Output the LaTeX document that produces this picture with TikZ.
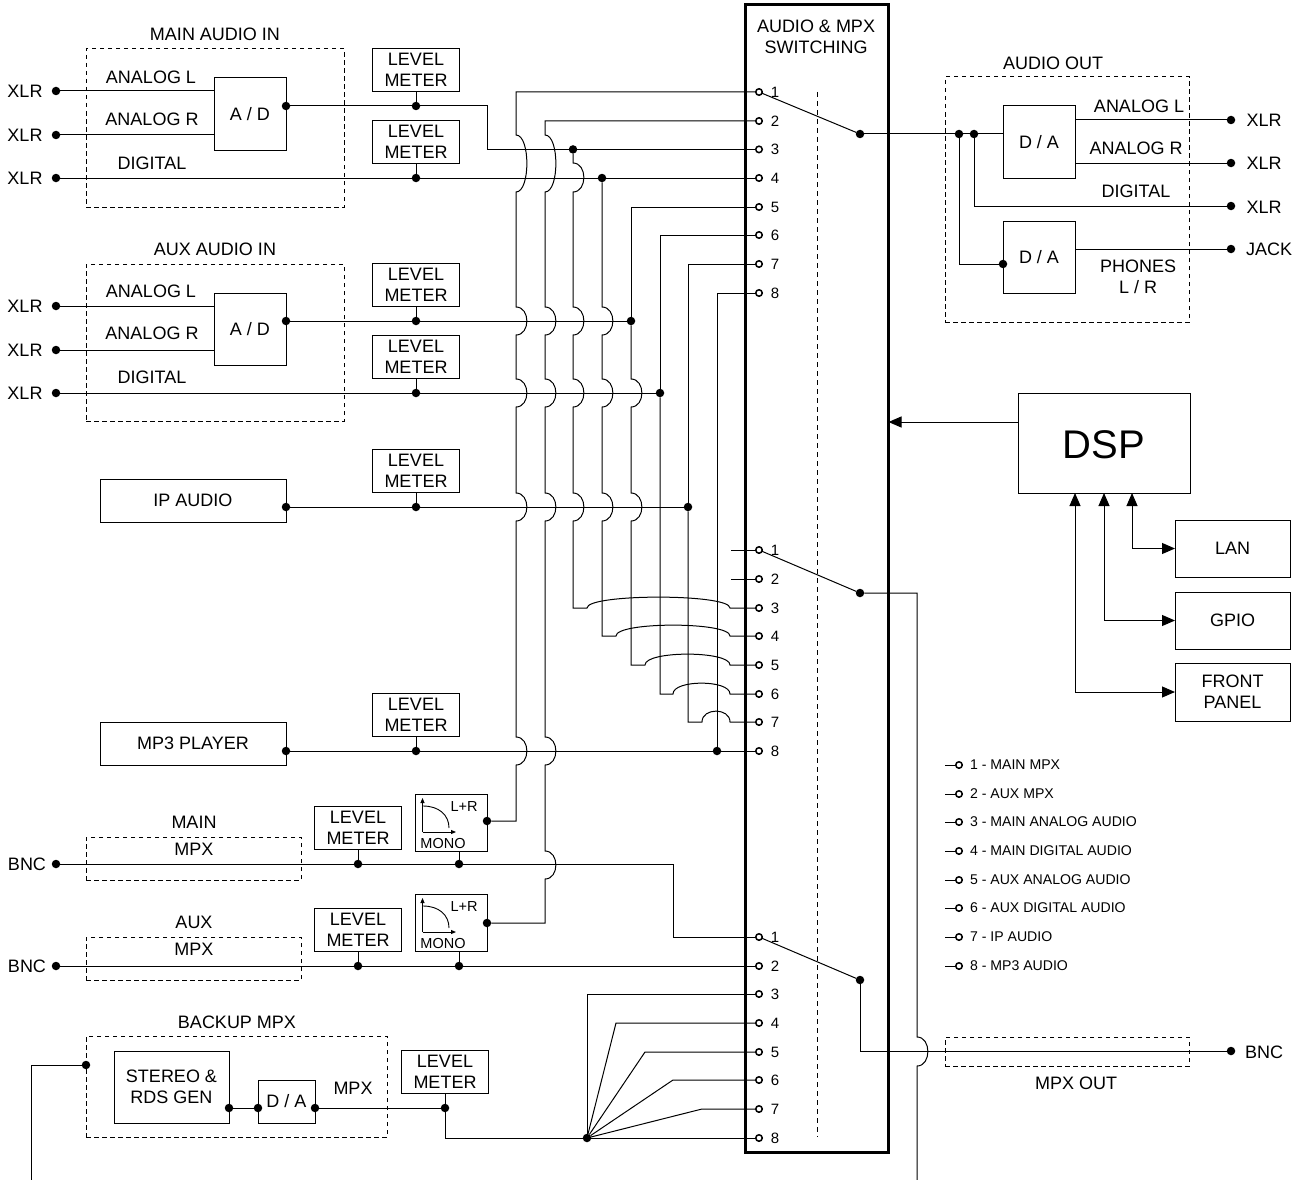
\documentclass[tikz,border=0pt]{standalone}
\usepackage{fontspec}
\setmainfont{Liberation Sans}
\usetikzlibrary{arrows.meta,positioning}

\begin{document}
\begin{tikzpicture}[x=1pt,y=-1pt,node distance=10pt,outer sep=0pt,inner sep=0pt,line width=1pt,>={Triangle[length=13pt,width=11pt]}]
        \tikzset{every node/.style={align=center,font=\fontsize{18}{21}\selectfont}}
        \tikzset{box/.style={shape=rectangle,draw}}
        \tikzset{dashbox/.style={shape=rectangle,draw,dash pattern=on 4.5pt off 3.5pt}}
        \tikzset{meter/.style={box,minimum height=43pt,minimum width=87pt}}
        \tikzset{convbox/.style={box,minimum height=72pt,minimum width=72pt}}
        \tikzset{mixbox/.style={box,minimum height=57pt,minimum width=72pt}}
        \tikzset{sidebox/.style={box,minimum height=57pt,minimum width=115pt}}
        \tikzset{srcbox/.style={box,minimum height=43pt,minimum width=186pt}}
        \tikzset{dot/.style={shape=circle,fill=black,minimum size=8.5pt}}
        \tikzset{pin/.style={shape=circle,draw,fill=white,line width=1.5pt,minimum size=6.5pt}}
        \tikzset{pinnum/.style={font=\fontsize{15}{17}\selectfont}}
        \tikzset{keytxt/.style={font=\fontsize{14.1}{16}\selectfont}}
        \tikzset{vhop/.style={out=0,in=0,distance=14.5pt}}
        \tikzset{hhop/.style={out=90,in=90,distance=14.5pt}}
        \tikzset{curveicon/.pic={
            \draw[line width=0.9pt,-{Triangle[length=5pt,width=4pt]}] (7.5,38) -- (7.5,4);
            \draw[line width=0.9pt,-{Triangle[length=5pt,width=4pt]}] (7.5,38) -- (41,38);
            \draw[line width=0.9pt] (8,12) .. controls (24,12) and (34,21) .. (34,34);
            \node[font=\fontsize{14.5}{16}\selectfont] (-lr) at (49,13) {L+R};
            \node[font=\fontsize{14.5}{16}\selectfont] (-mono) at (28,49) {MONO};
        }}

        \useasboundingbox (0,0) rectangle (1306,1180);

        % switching block
        \node [box,line width=3pt,minimum width=143pt,minimum height=1147pt] (switch) at (816.5,578.5) {};
        \node (switchtxt) at (816,36.5) {AUDIO \& MPX\\SWITCHING};
        \coordinate (sepa) at (817,92);
        \coordinate (sepb) at (817,1137);
        \draw [dash pattern=on 5pt off 4pt] (sepa) -- (sepb);

        \foreach \y [count=\i] in {92,121,149.4,178,207,235,264,293} {
            \node [pin] (a\i) at (759,\y) {};
            \node [pinnum] (a\i txt) at (775,\y) {\i};
        }
        \foreach \y [count=\i] in {550,579,608,636,665,694,722,751} {
            \node [pin] (b\i) at (759,\y) {};
            \node [pinnum] (b\i txt) at (775,\y) {\i};
        }
        \foreach \y [count=\i] in {937,966,994,1023,1052,1080,1109,1138} {
            \node [pin] (c\i) at (759,\y) {};
            \node [pinnum] (c\i txt) at (775,\y) {\i};
        }
        \node [dot] (swa) at (860,134) {};
        \node [dot] (swb) at (860,593) {};
        \node [dot] (swc) at (860,980) {};
        \draw (a1) -- (swa);
        \draw (b1) -- (swb);
        \draw (c1) -- (swc);
        \coordinate (bfree1) at (731,550);
        \coordinate (bfree2) at (731,579);
        \draw (bfree1) -- (b1);
        \draw (bfree2) -- (b2);

        % inputs on the left
        \foreach \i/\y in {1/91,2/135,3/178,4/306,5/350,6/393} {
            \node (xlrin\i) at (25,\y) {XLR};
            \node [dot] (tin\i) at (56,\y) {};
        }

        % main audio in
        \node [dashbox,minimum width=258pt,minimum height=158pt] (mainin) at (215,128) {};
        \node (maintxt) at (215,34) {MAIN AUDIO IN};
        \node [convbox] (admain) at (250,114) {A / D};
        \node (mainl) at (151,77) {ANALOG L};
        \node (mainr) at (152,119) {ANALOG R};
        \node (maind) at (152,163) {DIGITAL};
        \node [dot] (admainout) at (286,106) {};
        \node [dot] (lev1dot) at (416,106) {};
        \node [meter,above=of lev1dot] (lev1) {LEVEL\\METER};
        \node [dot] (lev2dot) at (416,178) {};
        \node [meter,above=of lev2dot] (lev2) {LEVEL\\METER};
        \draw (tin1) -- (tin1 -| admain.west);
        \draw (tin2) -- (tin2 -| admain.west);
        \draw (tin3) -- (a4);
        \draw (lev1) -- (lev1dot);
        \draw (lev2) -- (lev2dot);
        \draw (admainout) -- (487,106) -- (487,149.4) -- (a3);

        % aux audio in
        \node [dashbox,minimum width=258pt,minimum height=157pt] (auxin) at (215,342.5) {};
        \node (auxtxt) at (215,249) {AUX AUDIO IN};
        \node [convbox] (adaux) at (250,329) {A / D};
        \node (auxl) at (151,291) {ANALOG L};
        \node (auxr) at (152,333) {ANALOG R};
        \node (auxd) at (152,377) {DIGITAL};
        \node [dot] (adauxout) at (286,321) {};
        \node [dot] (lev3dot) at (416,321) {};
        \node [meter,above=of lev3dot] (lev3) {LEVEL\\METER};
        \node [dot] (lev4dot) at (416,393) {};
        \node [meter,above=of lev4dot] (lev4) {LEVEL\\METER};
        \draw (tin4) -- (tin4 -| adaux.west);
        \draw (tin5) -- (tin5 -| adaux.west);
        \draw (lev3) -- (lev3dot);
        \draw (lev4) -- (lev4dot);

        % ip audio and mp3 player
        \node [srcbox] (ipaudio) at (193,500.5) {IP AUDIO};
        \node [dot] (ipout) at (286,507) {};
        \node [dot] (lev5dot) at (416,507) {};
        \node [meter,above=of lev5dot] (lev5) {LEVEL\\METER};
        \draw (lev5) -- (lev5dot);
        \node [srcbox] (mp3) at (193,743.5) {MP3 PLAYER};
        \node [dot] (mp3out) at (286,751) {};
        \node [dot] (lev6dot) at (416,751) {};
        \node [meter,above=of lev6dot] (lev6) {LEVEL\\METER};
        \draw (lev6) -- (lev6dot);
        \draw (mp3out) -- (b8);

        % junctions towards the pins
        \node [dot] (jct3) at (573,149.4) {};
        \node [dot] (jct4) at (602,178) {};
        \node [dot] (jct5) at (631,321) {};
        \node [dot] (jct6) at (660,393) {};
        \node [dot] (jct7) at (688,507) {};
        \node [dot] (jct8) at (717,751) {};
        \draw (adauxout) -- (jct5);
        \draw (tin6) -- (jct6);
        \draw (ipout) -- (jct7);

        % main mpx
        \node [dashbox,minimum width=215pt,minimum height=43pt] (mainmpx) at (193.5,858.5) {};
        \node (mainmpxa) at (194,822) {MAIN};
        \node (mainmpxb) at (194,849) {MPX};
        \node (bncin1) at (27,864) {BNC};
        \node [dot] (tmpx1) at (56,864) {};
        \node [dot] (lev7dot) at (358,864) {};
        \node [meter,above=of lev7dot] (lev7) {LEVEL\\METER};
        \node [dot] (mix1dot) at (459,864) {};
        \node [mixbox] (mix1) at (451,822.5) {};
        \pic (mix1icon) at (415,794) {curveicon};
        \node [dot] (mix1out) at (487,821) {};
        \draw (lev7) -- (lev7dot);
        \draw (mix1dot |- mix1.south) -- (mix1dot);
        \draw (tmpx1) -- (673,864) -- (673,937) -- (c1);

        % aux mpx
        \node [dashbox,minimum width=215pt,minimum height=43pt] (auxmpx) at (193.5,958.5) {};
        \node (auxmpxa) at (194,922) {AUX};
        \node (auxmpxb) at (194,949) {MPX};
        \node (bncin2) at (27,966) {BNC};
        \node [dot] (tmpx2) at (56,966) {};
        \node [dot] (lev8dot) at (358,966) {};
        \node [meter,above=of lev8dot] (lev8) {LEVEL\\METER};
        \node [dot] (mix2dot) at (459,966) {};
        \node [mixbox] (mix2) at (451,922.5) {};
        \pic (mix2icon) at (415,894) {curveicon};
        \node [dot] (mix2out) at (487,923) {};
        \draw (lev8) -- (lev8dot);
        \draw (mix2dot |- mix2.south) -- (mix2dot);
        \draw (tmpx2) -- (c2);

        % vertical buses with their hops
        \draw (a1) -| (516,135) to[vhop] (516,192) -- (516,307) to[vhop] (516,335) -- (516,379) to[vhop] (516,407) -- (516,493) to[vhop] (516,521) -- (516,737) to[vhop] (516,765) |- (mix1out);
        \draw (a2) -| (545,135) to[vhop] (545,192) -- (545,307) to[vhop] (545,335) -- (545,379) to[vhop] (545,407) -- (545,493) to[vhop] (545,521) -- (545,737) to[vhop] (545,765) -- (545,851) to[vhop] (545,879) |- (mix2out);
        \draw (jct3) -- (573,163) to[vhop] (573,192) -- (573,307) to[vhop] (573,335) -- (573,379) to[vhop] (573,407) -- (573,493) to[vhop] (573,521) |- (587,608) to[hhop] (730,608) -- (b3);
        \draw (jct4) -- (602,307) to[vhop] (602,335) -- (602,379) to[vhop] (602,407) -- (602,493) to[vhop] (602,521) |- (616,636) to[hhop] (730,636) -- (b4);
        \draw (a5) -| (jct5);
        \draw (jct5) -- (631,379) to[vhop] (631,407) -- (631,493) to[vhop] (631,521) |- (645,665) to[hhop] (730,665) -- (b5);
        \draw (a6) -| (jct6);
        \draw (jct6) |- (673,694) to[hhop] (730,694) -- (b6);
        \draw (a7) -| (jct7);
        \draw (jct7) |- (702,722) to[hhop] (730,722) -- (b7);
        \draw (a8) -| (jct8);

        % backup mpx
        \node [dashbox,minimum width=301pt,minimum height=101pt] (backup) at (236.5,1086.5) {};
        \node (backuptxt) at (237,1022) {BACKUP MPX};
        \node [dot] (backupin) at (86,1065) {};
        \node [box,minimum width=115pt,minimum height=72pt] (stereo) at (171.5,1087) {STEREO \&\\RDS GEN};
        \node [box,minimum width=57pt,minimum height=43pt] (dabk) at (286.5,1101.5) {D / A};
        \node (mpxtxt) at (353,1088) {MPX};
        \node [dot] (stereoout) at (229,1108) {};
        \node [dot] (dabkin) at (258,1108) {};
        \node [dot] (dabkout) at (315,1108) {};
        \node [dot] (lev9dot) at (445,1108) {};
        \node [meter,above=of lev9dot] (lev9) {LEVEL\\METER};
        \node [dot] (fan) at (587,1138) {};
        \coordinate (feedl) at (31,1180);
        \draw (backupin) -| (feedl);
        \draw (stereoout) -- (dabkin);
        \draw (dabkout) -- (lev9dot);
        \draw (lev9) -- (lev9dot);
        \draw (lev9dot) |- (fan);
        \draw (fan) -- (c8);
        \foreach \i/\x in {3/587,4/616,5/645,6/673,7/702} {
            \draw (fan) -- (\x,0 |- c\i) -- (c\i);
        }

        % audio out
        \node [dashbox,minimum width=244pt,minimum height=245pt] (audioout) at (1067,199.5) {};
        \node (audioouttxt) at (1053,63) {AUDIO OUT};
        \node [convbox] (da1) at (1039,142) {D / A};
        \node [convbox] (da2) at (1039,257) {D / A};
        \node (outl) at (1139,106) {ANALOG L};
        \node (outr) at (1136,148) {ANALOG R};
        \node (outd) at (1136,191) {DIGITAL};
        \node (outp) at (1138,277) {PHONES\\L / R};
        \node [dot] (j959) at (959,134) {};
        \node [dot] (j974) at (974,134) {};
        \node [dot] (da2in) at (1003,264) {};
        \node [dot] (tout1) at (1231,120) {};
        \node [dot] (tout2) at (1231,163) {};
        \node [dot] (tout3) at (1231,206) {};
        \node [dot] (tout4) at (1231,249) {};
        \node (xlrout1) at (1264,120) {XLR};
        \node (xlrout2) at (1264,163) {XLR};
        \node (xlrout3) at (1264,207) {XLR};
        \node (jackout) at (1269,249) {JACK};
        \draw (swa) -- (swa -| da1.west);
        \draw (j974) |- (tout3);
        \draw (j959) |- (da2in);
        \draw (tout1 -| da1.east) -- (tout1);
        \draw (tout2 -| da1.east) -- (tout2);
        \draw (tout4 -| da2.east) -- (tout4);

        % mpx out
        \node [dashbox,minimum width=244pt,minimum height=29pt] (mpxout) at (1067,1051.5) {};
        \node (mpxouttxt) at (1076,1083) {MPX OUT};
        \node [dot] (tbnc) at (1231,1051) {};
        \node (bncout) at (1264,1052) {BNC};
        \coordinate (feedr) at (917,1180);
        \draw (swc) |- (tbnc);
        \draw (swb) -- (917,593) -- (917,1037) to[vhop] (917,1066) -- (feedr);

        % dsp and its ports
        \node [box,minimum width=172pt,minimum height=100pt,text height=31pt,font=\fontsize{40}{44}\selectfont] (dsp) at (1104,443) {DSP};
        \node [sidebox] (lan) at (1232.5,548.5) {LAN};
        \node [sidebox] (gpio) at (1232.5,620.5) {GPIO};
        \node [sidebox,minimum height=58pt] (front) at (1232.5,692) {FRONT\\PANEL};
        \coordinate (dspin) at (1018,422);
        \coordinate (switchin) at (888.5,422);
        \coordinate (dsplan) at (1132,493);
        \coordinate (dspgpio) at (1104,493);
        \coordinate (dspfront) at (1075,493);
        \draw [->] (dspin) -- (switchin);
        \draw [<->] (dsplan) |- (lan);
        \draw [<->] (dspgpio) |- (gpio);
        \draw [<->] (dspfront) |- (front);

        % pin legend
        \foreach \i/\y/\t in {1/765/1 - MAIN MPX,2/794/2 - AUX MPX,3/822/3 - MAIN ANALOG AUDIO,4/851/4 - MAIN DIGITAL AUDIO,5/880/5 - AUX ANALOG AUDIO,6/908/6 - AUX DIGITAL AUDIO,7/937/7 - IP AUDIO,8/966/8 - MP3 AUDIO} {
            \coordinate (keyfree\i) at (945,\y);
            \node [pin] (key\i) at (959,\y) {};
            \node [keytxt,anchor=west] (key\i txt) at (970,\y) {\t};
            \draw (keyfree\i) -- (key\i);
        }
    \end{tikzpicture}
\end{document}
